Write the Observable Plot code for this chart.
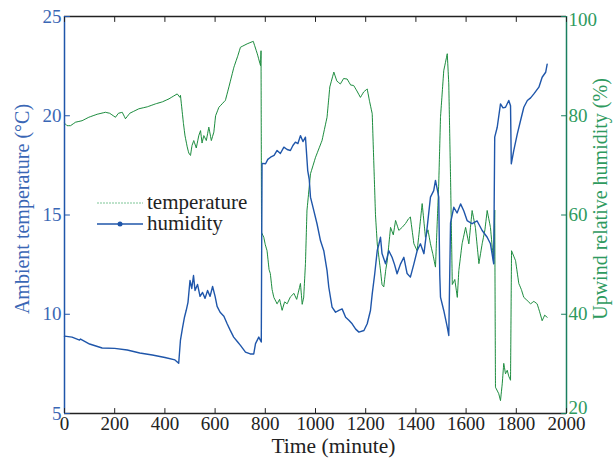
<!DOCTYPE html>
<html><head><meta charset="utf-8">
<script src="https://cdn.jsdelivr.net/npm/d3@7"></script>
<script src="https://cdn.jsdelivr.net/npm/@observablehq/plot@0.6"></script>
<style>
html,body{margin:0;padding:0;background:#fff;}
#wrap{position:relative;width:615px;height:458px;font-family:"Liberation Serif","DejaVu Serif",serif;}
#legend{position:absolute;left:97px;top:192px;font-size:21px;color:#222;line-height:21px;}
#legend div{display:flex;align-items:center;height:21px;}
#legend svg{margin-right:4px;}
</style></head>
<body><div id="wrap"><div id="legend"></div></div>
<script>
// Blue series: ambient temperature (°C), left axis
const tempTime = [0,30,60,64,100,150,200,250,300,350,400,440,455,462,470,478,485,492,500,507,514,520,530,540,550,560,570,580,590,600,608,620,635,648,660,674,690,701,721,740,754,761,774,784,787,801,810,821,835,847,860,874,887,900,910,920,930,940,950,960,969,975,980,993,1006,1020,1033,1046,1053,1066,1080,1093,1106,1120,1133,1146,1160,1173,1193,1206,1219,1226,1236,1246,1252,1259,1265,1279,1292,1305,1315,1325,1339,1352,1365,1378,1392,1405,1418,1432,1445,1458,1471,1478,1485,1491,1495,1498,1511,1525,1531,1538,1551,1564,1578,1591,1604,1624,1644,1664,1684,1697,1710,1714,1724,1737,1747,1757,1770,1777,1780,1790,1804,1817,1830,1844,1857,1870,1890,1903,1917,1923];
const tempValue = [8.9,8.85,8.7,8.75,8.5,8.3,8.28,8.2,8.05,7.95,7.82,7.7,7.53,8.7,9.3,9.85,10.2,10.6,11.7,11.3,11.95,11.2,11.5,10.9,11.1,10.8,11.2,10.9,11.4,10.9,10.4,10.1,9.9,9.52,9.2,8.85,8.6,8.43,8.09,8.0,8.0,8.52,8.85,8.6,17.6,17.58,17.8,17.91,18.0,18.25,18.1,18.42,18.3,18.25,18.5,18.67,18.6,19.0,18.7,18.92,17.24,16.8,15.9,15.23,14.56,13.7,13.2,12.2,11.36,10.36,10.1,10.2,10.27,9.85,9.7,9.52,9.25,9.1,9.18,9.52,10.19,11.03,12.04,13.21,13.5,13.88,13.06,12.54,13.2,12.87,12.5,12.04,12.54,12.87,12.05,11.87,12.54,13.2,13.55,13.05,14.39,15.9,16.23,16.74,16.3,15.9,12,10.86,10.19,9.35,8.93,14.6,15.39,15.1,15.56,15.2,14.72,14.56,14.7,14.22,13.88,13.55,12.54,18.92,19.42,20.6,20.4,20.43,20.77,20.5,17.58,18.25,19.09,19.76,20.43,20.77,20.9,21.1,21.44,21.94,22.19,22.6];
// Green series: upwind relative humidity (%), right axis
const humTime = [0,10,24,44,70,97,130,163,180,203,215,230,243,260,296,330,363,390,416,449,460,462,474,480,489,495,502,508,515,525,535,542,548,555,565,575,585,595,602,615,628,641,655,675,690,701,728,752,768,781,783,785,794,800,807,815,820,827,834,847,857,867,877,887,900,914,925,940,947,953,960,966,980,1000,1026,1046,1057,1073,1085,1099,1112,1126,1140,1152,1165,1179,1192,1206,1215,1226,1232,1239,1246,1259,1265,1272,1280,1286,1299,1310,1319,1332,1345,1359,1370,1378,1392,1405,1412,1425,1438,1448,1458,1468,1478,1491,1498,1511,1525,1531,1538,1545,1555,1565,1571,1584,1598,1611,1624,1637,1651,1664,1675,1684,1697,1710,1714,1717,1730,1737,1744,1750,1757,1764,1770,1777,1781,1797,1810,1820,1830,1843,1857,1870,1883,1893,1903,1913,1923];
const humValue = [78.5,78.0,78,78.7,79,79.7,80.3,80.7,80.5,79.7,80.5,80.7,79.4,80.5,81.4,81.8,82.4,82.8,83.4,84.4,83.7,84.1,78.4,76,73.7,72.5,72,74,75,73.5,76,77,74.5,76,75,77.7,75,76.7,80,81.7,82.4,83.1,85.8,89.8,92,93.8,94.5,95,92.5,90.1,93.1,56.5,55.5,54,52.8,49,48.2,45,43.4,42.1,43,40.8,42.5,42.1,43.5,44.2,43,46.2,42,43.4,50.2,60.9,68.3,71.6,75,79.7,85.8,88.8,87,86.4,87.5,87.4,86.2,86.1,85,83.7,84.8,85.4,83,80.4,71,60,54.2,48.8,46,45.5,49,50.8,57.5,56,58.9,56.9,57.5,58.3,59.2,59.6,54.2,52.8,56,62.3,55.5,57,54.2,52,49.5,66.3,79.7,89.1,92.5,86.4,67.6,46,47,43.4,48.8,54.2,57.5,54.2,60.9,57.5,50.2,54.2,57,60.9,57.5,50.2,61,25.3,24,22.6,26,30.1,28,28.7,27.5,26.7,52.8,50.8,46.2,45,43.4,42.8,42.1,42.6,42.1,40.5,38.7,39.8,39.4];

const xTicks = [0,200,400,600,800,1000,1200,1400,1600,1800,2000];
const tempTicks = [5,10,15,20,25];
const humTicks = [20,40,60,80,100];
const legendLabels = ["temperature","humidity"];

const BLUE = "#1f56aa", BLUE_T = "#3a67b5";
const GREEN = "#1c8c3e", GREEN_T = "#2e9a5e", GREEN_AX = "#1a7f5f";

// humidity → temperature-scale mapping (20..100 % onto 5..25 °C)
const h2t = h => 5 + (h - 20) / 4;
const t2h = t => Math.round(20 + (t - 5) * 4);
const tempData = tempTime.map((t, i) => ({t, v: tempValue[i]}));
const humData = humTime.map((t, i) => ({t, v: h2t(humValue[i])}));
const humTickPos = humTicks.map(h2t);
const humMid = humTicks.slice(1, -1).map(h2t);

const tickShape = {draw(context, l) { context.moveTo(0, 0); context.lineTo(0, -l); }};
const inwardTicks = (data, opts) => Plot.vector(data, {length: 5, anchor: "start", shape: tickShape, strokeWidth: 1, ...opts});
const rightLabels = (ticks, dy) => Plot.axisY({anchor: "right", ticks, tickSize: 0, tickPadding: 2, label: null, fill: GREEN_T, dy, tickFormat: t2h});

const font = "Liberation Serif, DejaVu Serif, serif";
const chart = Plot.plot({
  width: 615, height: 458,
  marginTop: 16, marginRight: 49, marginBottom: 45, marginLeft: 64,
  style: {fontFamily: font, fontSize: "19px", background: "white", overflow: "visible"},
  x: {domain: [0, 2000]},
  y: {domain: [5, 25]},
  marks: [
    Plot.line(humData, {x: "t", y: "v", stroke: GREEN, strokeWidth: 1, strokeDasharray: "2,0.7"}),
    Plot.line(tempData, {x: "t", y: "v", stroke: BLUE, strokeWidth: 1.4}),
    // frame lines
    Plot.ruleY([25], {stroke: "#222", strokeWidth: 1.5}),
    Plot.ruleY([5], {stroke: "#222", strokeWidth: 1.5}),
    Plot.ruleX([0], {stroke: BLUE, strokeWidth: 1.5}),
    Plot.ruleX([2000], {stroke: GREEN_AX, strokeWidth: 1.5}),
    // inward ticks
    inwardTicks(xTicks, {x: d => d, y: 5, rotate: 0, stroke: "#222"}),
    inwardTicks(xTicks, {x: d => d, y: 25, rotate: 180, stroke: "#222"}),
    inwardTicks(tempTicks, {x: 0, y: d => d, rotate: 90, stroke: BLUE}),
    inwardTicks(humTickPos, {x: 2000, y: d => d, rotate: -90, stroke: GREEN_AX}),
    // tick labels
    Plot.axisX({anchor: "bottom", ticks: xTicks, tickSize: 0, tickPadding: 3, label: null, fill: "#222", tickFormat: d3.format("d")}),
    Plot.axisY({anchor: "left", ticks: tempTicks, tickSize: 0, tickPadding: 3, label: null, fill: BLUE_T, tickFormat: d3.format("d")}),
    rightLabels(humMid, 0),
    rightLabels([humTickPos[humTickPos.length - 1]], 3),
    rightLabels([humTickPos[0]], -6),
    // titles
    Plot.text(["Time (minute)"], {frameAnchor: "bottom", dx: 18, dy: 33, fontSize: 21.5, fill: "#222", lineAnchor: "middle", textAnchor: "middle"}),
    Plot.text(["Ambient temperature (°C)"], {frameAnchor: "left", dx: -42, dy: -6, rotate: -90, fontSize: 20, fill: BLUE_T, textAnchor: "middle"}),
    Plot.text(["Upwind relative humidity (%)"], {frameAnchor: "right", dx: 34, dy: -16, rotate: -90, fontSize: 20, fill: GREEN_T, textAnchor: "middle"})
  ]
});
document.getElementById("wrap").prepend(chart);

// legend
const lg = document.getElementById("legend");
legendLabels.forEach((lab, i) => {
  const row = document.createElement("div");
  const col = i === 0 ? "#7cc596" : BLUE;
  const sw = i === 0
    ? `<svg width="46" height="10"><line x1="0" y1="5" x2="46" y2="5" stroke="${col}" stroke-width="1" stroke-dasharray="2,1"/></svg>`
    : `<svg width="46" height="10"><line x1="0" y1="5" x2="46" y2="5" stroke="${col}" stroke-width="1.4"/><circle cx="23" cy="5" r="2.5" fill="${col}"/></svg>`;
  row.innerHTML = sw + `<span>${lab}</span>`;
  lg.appendChild(row);
});
</script></body></html>
